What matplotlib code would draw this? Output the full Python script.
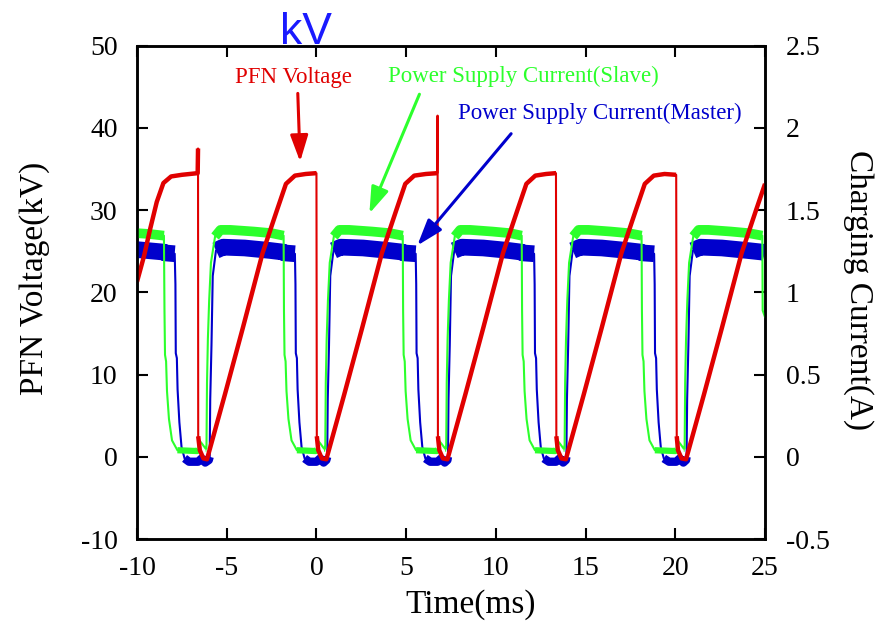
import numpy as np
import matplotlib
matplotlib.use("Agg")
import matplotlib.pyplot as plt
from matplotlib.ticker import FormatStrFormatter

plt.rcParams['font.family'] = 'Liberation Serif'
plt.rcParams['axes.unicode_minus'] = False

# PFN voltage (kV)
pfn_t = [-10.0, -9.6, -9.28, -8.9, -8.53, -8.1, -7.5, -6.62, -6.60, -6.59, -6.50, -6.3, -6.1,
         -5.1, -4.1, -3.0, -2.2, -1.7, -1.2, -0.6, -0.02, 0.0, 0.02, 0.1, 0.3, 0.55,
         1.55, 2.55, 3.65, 4.45, 4.95, 5.45, 6.1, 6.73, 6.75, 6.77, 6.85, 7.05, 7.3,
         8.3, 9.3, 10.4, 11.2, 11.7, 12.2, 12.8, 13.33, 13.35, 13.37, 13.45, 13.65, 13.9,
         14.9, 15.9, 17.0, 17.8, 18.3, 18.8, 19.4, 20.03, 20.05, 20.08, 20.15, 20.35, 20.6,
         21.6, 22.6, 23.7, 24.5, 25.0]
pfn_kv = [21.3, 24.5, 27.6, 31.0, 33.3, 34.1, 34.3, 34.5, 37.5, 2.5, 0.8, -0.2, -0.3,
          7.6, 15.7, 24.8, 30.0, 33.2, 34.2, 34.4, 34.5, 34.5, 2.5, 0.8, -0.2, -0.3,
          7.6, 15.7, 24.8, 30.0, 33.2, 34.2, 34.4, 34.5, 41.5, 2.5, 0.8, -0.2, -0.3,
          7.6, 15.7, 24.8, 30.0, 33.2, 34.2, 34.4, 34.5, 34.5, 2.5, 0.8, -0.2, -0.3,
          7.6, 15.7, 24.8, 30.0, 33.2, 34.2, 34.4, 34.3, 34.3, 2.5, 0.8, -0.2, -0.3,
          7.6, 15.7, 24.8, 30.0, 33.2]

# power supply current, slave (A)
slave_t = [-10.0, -9.3, -8.5,
           -8.47, -8.44, -8.38, -8.33, -8.22, -8.05, -7.75, -6.65, -6.58, -6.53, -6.38, -6.18,
           -6.13, -6.10, -6.05, -5.98, -5.88, -5.65, -5.35, -4.8, -3.5, -2.5, -1.83,
           -1.81, -1.78, -1.72, -1.67, -1.56, -1.39, -1.09, -0.05, 0.02, 0.07, 0.22, 0.42,
           0.49, 0.52, 0.57, 0.64, 0.74, 0.97, 1.27, 1.82, 3.1, 4.1, 4.81,
           4.83, 4.86, 4.92, 4.97, 5.08, 5.25, 5.55, 6.7, 6.77, 6.82, 6.97, 7.17,
           7.23, 7.26, 7.31, 7.38, 7.48, 7.71, 8.01, 8.56, 9.8, 10.8, 11.44,
           11.46, 11.49, 11.55, 11.6, 11.71, 11.88, 12.18, 13.3, 13.37, 13.42, 13.57, 13.77,
           13.83, 13.86, 13.91, 13.98, 14.08, 14.31, 14.61, 15.16, 16.4, 17.4, 18.12,
           18.14, 18.17, 18.23, 18.28, 18.39, 18.56, 18.86, 20.0, 20.07, 20.12, 20.27, 20.47,
           20.52, 20.55, 20.60, 20.67, 20.77, 21.0, 21.3, 21.85, 23.1, 24.1, 24.85,
           24.87, 25.0]
slave_a = [1.36, 1.355, 1.345,
           0.89, 0.62, 0.58, 0.40, 0.23, 0.10, 0.04, 0.035, 0.045, 0.10, 0.08, 0.05,
           0.05, 0.45, 0.72, 0.95, 1.18, 1.34, 1.38, 1.38, 1.37, 1.36, 1.345,
           0.89, 0.62, 0.58, 0.40, 0.23, 0.10, 0.04, 0.035, 0.045, 0.10, 0.08, 0.05,
           0.05, 0.45, 0.72, 0.95, 1.18, 1.34, 1.38, 1.38, 1.37, 1.36, 1.345,
           0.89, 0.62, 0.58, 0.40, 0.23, 0.10, 0.04, 0.035, 0.045, 0.10, 0.08, 0.05,
           0.05, 0.45, 0.72, 0.95, 1.18, 1.34, 1.38, 1.38, 1.37, 1.36, 1.345,
           0.89, 0.62, 0.58, 0.40, 0.23, 0.10, 0.04, 0.035, 0.045, 0.10, 0.08, 0.05,
           0.05, 0.45, 0.72, 0.95, 1.18, 1.34, 1.38, 1.38, 1.37, 1.36, 1.345,
           0.89, 0.62, 0.58, 0.40, 0.23, 0.10, 0.04, 0.035, 0.045, 0.10, 0.08, 0.05,
           0.05, 0.45, 0.72, 0.95, 1.18, 1.34, 1.38, 1.38, 1.37, 1.36, 1.345,
           0.89, 0.85]

# power supply current, master (A)
master_t = [-10.0, -9.0, -8.5, -8.45, -7.9,
            -7.86, -7.84, -7.78, -7.74, -7.64, -7.52, -7.35, -7.1, -6.6, -6.4, -6.2, -6.0,
            -5.95, -5.92, -5.85, -5.78, -5.6, -5.2, -4.0, -2.6, -1.85, -1.8, -1.2,
            -1.17, -1.15, -1.09, -1.05, -0.95, -0.83, -0.66, -0.4, 0.0, 0.2, 0.4, 0.55,
            0.6, 0.63, 0.70, 0.77, 0.95, 1.35, 2.6, 4.0, 4.8, 4.85, 5.53,
            5.56, 5.58, 5.64, 5.68, 5.78, 5.9, 6.07, 6.35, 6.75, 6.95, 7.15, 7.3,
            7.33, 7.36, 7.43, 7.5, 7.68, 8.1, 9.3, 10.7, 11.43, 11.48, 12.13,
            12.16, 12.18, 12.24, 12.28, 12.38, 12.5, 12.67, 12.95, 13.35, 13.55, 13.75, 13.9,
            13.93, 13.96, 14.03, 14.1, 14.28, 14.7, 15.9, 17.3, 18.1, 18.15, 18.82,
            18.85, 18.87, 18.93, 18.97, 19.07, 19.19, 19.36, 19.65, 20.05, 20.25, 20.45, 20.6,
            20.63, 20.66, 20.73, 20.8, 20.98, 21.4, 22.6, 24.0, 24.85, 25.0]
master_a = [1.26, 1.25, 1.245, 1.24, 1.235,
            1.05, 0.63, 0.60, 0.41, 0.21, 0.06, -0.01, -0.03, -0.03, -0.01, -0.035, -0.02,
            0.0, 0.35, 0.68, 1.10, 1.255, 1.275, 1.27, 1.255, 1.245, 1.24, 1.235,
            1.05, 0.63, 0.60, 0.41, 0.21, 0.06, -0.01, -0.03, -0.03, -0.01, -0.035, -0.02,
            0.0, 0.35, 0.68, 1.10, 1.255, 1.275, 1.27, 1.255, 1.245, 1.24, 1.235,
            1.05, 0.63, 0.60, 0.41, 0.21, 0.06, -0.01, -0.03, -0.03, -0.01, -0.035, -0.02,
            0.0, 0.35, 0.68, 1.10, 1.255, 1.275, 1.27, 1.255, 1.245, 1.24, 1.235,
            1.05, 0.63, 0.60, 0.41, 0.21, 0.06, -0.01, -0.03, -0.03, -0.01, -0.035, -0.02,
            0.0, 0.35, 0.68, 1.10, 1.255, 1.275, 1.27, 1.255, 1.245, 1.24, 1.235,
            1.05, 0.63, 0.60, 0.41, 0.21, 0.06, -0.01, -0.03, -0.03, -0.01, -0.035, -0.02,
            0.0, 0.35, 0.68, 1.10, 1.255, 1.275, 1.27, 1.255, 1.245, 1.24]

RED = '#e00000'
GREEN = '#2cff2c'
BLUE = '#0000cc'


def break_steep(t, y, limit):
    # insert gaps where the trace jumps, so the thick (noisy) overlay skips them
    t = np.asarray(t, float)
    y = np.asarray(y, float)
    slope = np.abs(np.diff(y) / np.diff(t))
    tt, yy = [t[0]], [y[0]]
    for i, s in enumerate(slope):
        if s > limit:
            tt.append(np.nan)
            yy.append(np.nan)
        tt.append(t[i + 1])
        yy.append(y[i + 1])
    return tt, yy


fig = plt.figure(figsize=(8.75, 6.23), dpi=100)
ax = fig.add_axes([0.1566, 0.1348, 0.7177, 0.7918])
ax2 = ax.twinx()

ax.set_xlim(-10, 25)
ax.set_ylim(-10, 50)
ax2.set_ylim(-0.5, 2.5)

# currents (right axis)
m_a = np.array(master_a)
s_a = np.array(slave_a)
ax2.plot(master_t, master_a, color=BLUE, lw=1.5)
ax2.plot(master_t, np.where(m_a > 1.2, m_a, np.nan), color=BLUE, lw=12, solid_capstyle='butt')
ax2.plot(master_t, np.where(m_a < 0.02, m_a, np.nan), color=BLUE, lw=6, solid_capstyle='butt')
ax2.plot(slave_t, slave_a, color=GREEN, lw=1.5)
ax2.plot(slave_t, np.where(s_a > 1.2, s_a, np.nan), color=GREEN, lw=7, solid_capstyle='butt')
ax2.plot(slave_t, np.where(s_a < 0.07, s_a, np.nan), color=GREEN, lw=4.5, solid_capstyle='butt')

# PFN voltage drawn on top, in left-axis units
to_left = ax.transData
rt, rv = break_steep(pfn_t, pfn_kv, 200)
ax2.plot(pfn_t, pfn_kv, color=RED, lw=1.5, transform=to_left)
ax2.plot(rt, rv, color=RED, lw=3.2, transform=to_left, solid_capstyle='butt')

# axes styling
for a in (ax, ax2):
    for s in a.spines.values():
        s.set_linewidth(1.8)
ax.set_xticks([-10, -5, 0, 5, 10, 15, 20, 25])
ax.set_yticks([-10, 0, 10, 20, 30, 40, 50])
ax2.set_yticks([-0.5, 0, 0.5, 1, 1.5, 2, 2.5])
ax2.yaxis.set_major_formatter(FormatStrFormatter('%g'))
ax.tick_params(axis='x', direction='in', length=8, width=1.5, top=True, labelsize=20, pad=12)
ax.tick_params(axis='y', direction='in', length=8, width=1.5, labelsize=20, pad=14)
ax2.tick_params(axis='y', direction='in', length=8, width=1.5, labelsize=20, pad=15)

fig.text(471 / 875, 1 - 605 / 623, 'Time(ms)', fontsize=24, ha='center', va='center')
fig.text(35 / 875, 1 - 278 / 623, 'PFN Voltage(kV)', fontsize=24, rotation=90,
         ha='center', va='center')
fig.text(858 / 875, 1 - 290 / 623, 'Charging Current(A)', fontsize=24, rotation=270,
         ha='center', va='center')
fig.text(306 / 875, 1 - 44 / 623, 'kV', fontsize=32, family='Liberation Sans',
         color='#1a1aff', ha='center', va='baseline')

# annotations
arrow = dict(arrowstyle='-|>,head_length=0.8,head_width=0.27', lw=2.2,
             mutation_scale=20, shrinkA=0, shrinkB=0)
notes = [
    ('PFN Voltage', RED, (-1.29, 46.1), (-1.04, 44.2), (-0.91, 35.9)),
    ('Power Supply Current(Slave)', GREEN, (11.52, 46.3), (5.74, 44.1), (2.95, 29.6)),
    ('Power Supply Current(Master)', BLUE, (15.81, 41.8), (10.85, 39.3), (5.62, 25.7)),
]
for label, col, pos, start, tip in notes:
    ax2.text(pos[0], pos[1], label, color=col, fontsize=16.5, ha='center', va='center',
             transform=ax.transData)
    ax2.annotate('', xy=tip, xytext=start, xycoords=ax.transData, textcoords=ax.transData,
                 arrowprops=dict(arrow, color=col))

fig.savefig('out.png', dpi=100)
